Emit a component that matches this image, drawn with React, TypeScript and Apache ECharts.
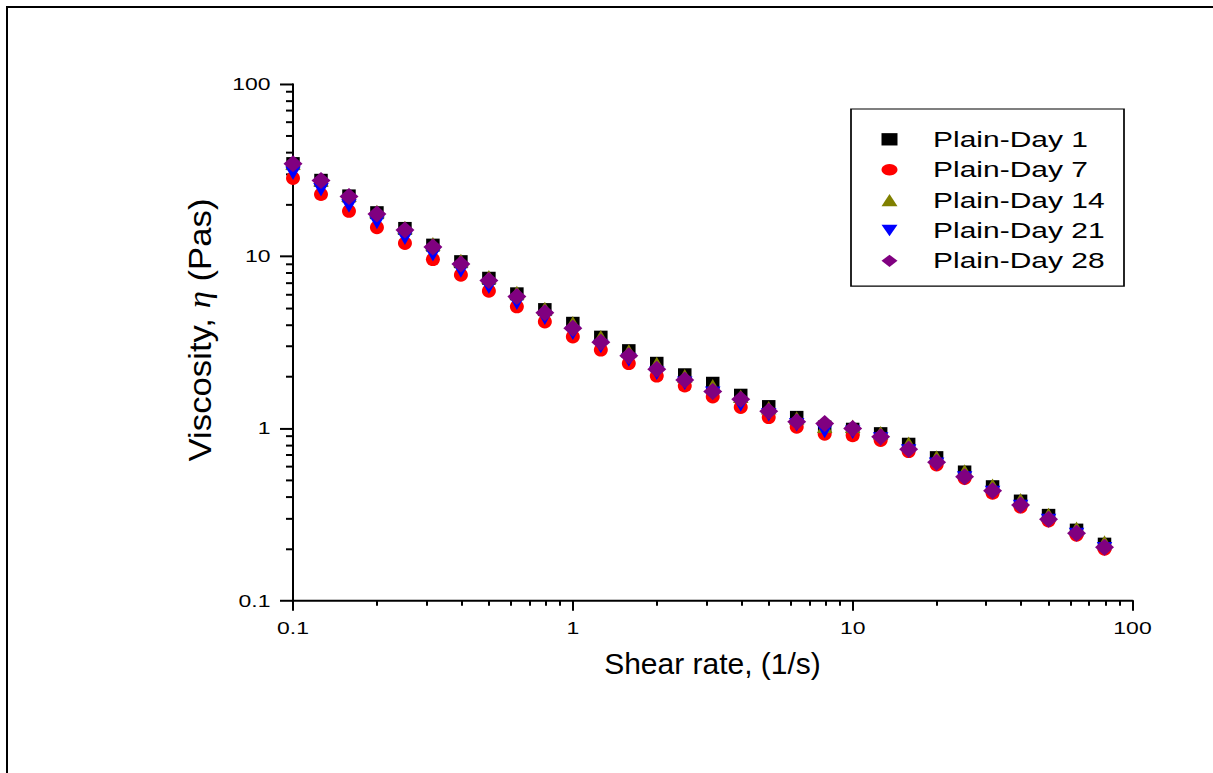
import React, { useEffect, useRef } from "react";
import * as echarts from "echarts";

// Shear rate (1/s), 10 points per decade
const shearRate = [
  0.1, 0.1259, 0.1585, 0.1995, 0.2512, 0.3162, 0.3981, 0.5012, 0.631, 0.7943,
  1, 1.259, 1.585, 1.995, 2.512, 3.162, 3.981, 5.012, 6.31, 7.943,
  10, 12.59, 15.85, 19.95, 25.12, 31.62, 39.81, 50.12, 63.1, 79.43,
];

// Viscosity (Pas)
const day1 = [
  34.5, 27.6, 22.4, 17.9, 14.5, 11.6, 9.3, 7.45, 6.05, 4.9,
  4.08, 3.39, 2.83, 2.39, 2.05, 1.83, 1.56, 1.34, 1.16, 1.02,
  0.99, 0.933, 0.81, 0.677, 0.559, 0.459, 0.379, 0.313, 0.257, 0.213,
];
const day7 = [
  28.4, 22.9, 18.3, 14.7, 11.9, 9.6, 7.79, 6.29, 5.1, 4.17,
  3.41, 2.86, 2.39, 2.02, 1.77, 1.53, 1.33, 1.16, 1.02, 0.93,
  0.91, 0.855, 0.737, 0.616, 0.514, 0.422, 0.351, 0.2915, 0.2407, 0.1997,
];
const day14 = [
  34.8, 27.8, 22.6, 18.2, 14.7, 11.8, 9.45, 7.6, 6.15, 4.98,
  4.11, 3.41, 2.82, 2.38, 2.02, 1.77, 1.54, 1.32, 1.15, 1.03,
  1.03, 0.945, 0.82, 0.683, 0.567, 0.468, 0.385, 0.317, 0.263, 0.219,
];
const day21 = [
  30.3, 24.3, 19.6, 15.7, 12.7, 10.2, 8.22, 6.61, 5.33, 4.37,
  3.57, 2.99, 2.5, 2.09, 1.83, 1.6, 1.37, 1.2, 1.05, 0.96,
  0.95, 0.87, 0.74, 0.62, 0.515, 0.425, 0.352, 0.292, 0.242, 0.2,
];
const day28 = [
  34.4, 27.5, 22.2, 17.6, 14.2, 11.3, 9.02, 7.22, 5.83, 4.7,
  3.82, 3.17, 2.64, 2.21, 1.91, 1.64, 1.48, 1.26, 1.095, 1.07,
  1.0, 0.896, 0.757, 0.636, 0.525, 0.435, 0.359, 0.297, 0.246, 0.204,
];

const seriesNames = ["Plain-Day 1", "Plain-Day 7", "Plain-Day 14", "Plain-Day 21", "Plain-Day 28"];
const seriesValues = [day1, day7, day14, day21, day28];
const seriesColors = ["#000000", "#ff0000", "#808000", "#0000ff", "#800080"];
const seriesSymbols = ["rect", "circle", "triangle", "path://M0,0 L10,0 L5,10 Z", "diamond"];

const majorTicks = [0.1, 1, 10, 100];
const minorTicks = [
  0.2, 0.3, 0.4, 0.5, 0.6, 0.7, 0.8, 0.9,
  2, 3, 4, 5, 6, 7, 8, 9,
  20, 30, 40, 50, 60, 70, 80, 90,
];

const xTitle = "Shear rate, (1/s)";
const yTitle = "Viscosity, {eta|η} (Pas)";

const FONT = "'Liberation Sans', Arial, Helvetica, sans-serif";
const SERIF = "'Liberation Serif', 'DejaVu Serif', serif";

// The chart is drawn taller and squashed vertically (like the reference's wide, flat lettering)
const PAGE_H = 773;
const DRAW_H = 1066;
const K = PAGE_H / DRAW_H;

export default function App() {
  const ref = useRef<HTMLDivElement>(null);

  useEffect(() => {
    if (!ref.current) return;
    const chart = echarts.init(ref.current, null, { renderer: "svg" });
    const fmt = (v: number) => `${+Number(v).toPrecision(6)}`;
    const hw = 2 / K; // horizontal line thickness compensated

    const minorAxisCommon = {
      type: "log" as const,
      logBase: 10,
      min: 0.1,
      max: 100,
      splitLine: { show: false },
      axisLine: { show: false },
      axisLabel: { show: false },
    };

    const sizes: number[][] = [
      [13.5, 13 / K],
      [14, 13.5 / K],
      [15.5, 13.5 / K],
      [15.5, 13.5 / K],
      [19, 17 / K],
    ];

    const option: any = {
      animation: false,
      backgroundColor: "#ffffff",
      grid: { left: 293, right: 80.5, top: 84 / K, bottom: DRAW_H - 600.7 / K, containLabel: false },
      graphic: [
        {
          type: "line",
          shape: { x1: 6, y1: 7 / K, x2: 1230, y2: 7 / K },
          style: { stroke: "#000", lineWidth: hw },
          silent: true,
        },
        {
          type: "line",
          shape: { x1: 7, y1: 6 / K, x2: 7, y2: DRAW_H + 20 },
          style: { stroke: "#000", lineWidth: 2 },
          silent: true,
        },
        {
          type: "text",
          x: 200,
          y: 330 / K,
          rotation: Math.PI / 2,
          scaleX: 1.12 / K,
          scaleY: 1,
          silent: true,
          style: {
            text: yTitle,
            fontFamily: FONT,
            fontSize: 31,
            fill: "#000",
            align: "center",
            verticalAlign: "middle",
            rich: {
              eta: { fontFamily: SERIF, fontStyle: "italic", fontSize: 31, fill: "#000" },
            },
          },
        },
        {
          type: "text",
          x: 712.5,
          y: 664 / K,
          scaleX: 1,
          scaleY: 1 / K,
          silent: true,
          style: {
            text: xTitle,
            fontFamily: FONT,
            fontSize: 30,
            fill: "#000",
            align: "center",
            verticalAlign: "middle",
          },
        },
      ],
      legend: {
        orient: "vertical",
        left: 851,
        top: 109 / K,
        padding: [26.8, 19, 19.8, 30.5],
        itemWidth: 16,
        itemHeight: 17,
        itemGap: 11.9,
        borderColor: "#000",
        borderWidth: 1.7,
        backgroundColor: "#fff",
        data: seriesNames,
        textStyle: {
          fontFamily: FONT,
          fontSize: 30,
          color: "#000",
          lineHeight: 30,
          width: 172,
          padding: [0, 0, 0, 30.5],
        },
      },
      xAxis: [
        {
          type: "log",
          logBase: 10,
          min: 0.1,
          max: 100,
          position: "bottom",
          splitLine: { show: false },
          axisLine: { show: true, lineStyle: { color: "#000", width: hw } },
          axisTick: {
            show: true,
            inside: false,
            length: 10 / K,
            customValues: majorTicks,
            lineStyle: { color: "#000", width: 2 },
          },
          axisLabel: {
            show: true,
            customValues: majorTicks,
            margin: 26,
            fontFamily: FONT,
            fontSize: 23,
            color: "#000",
            formatter: fmt,
          },
        },
        {
          ...minorAxisCommon,
          position: "bottom",
          axisTick: {
            show: true,
            inside: false,
            length: 5 / K,
            customValues: minorTicks,
            lineStyle: { color: "#000", width: 2 },
          },
        },
      ],
      yAxis: [
        {
          type: "log",
          logBase: 10,
          min: 0.1,
          max: 100,
          position: "left",
          splitLine: { show: false },
          axisLine: { show: true, lineStyle: { color: "#000", width: 2 } },
          axisTick: {
            show: true,
            inside: false,
            length: 13,
            customValues: majorTicks,
            lineStyle: { color: "#000", width: hw },
          },
          axisLabel: {
            show: true,
            customValues: majorTicks,
            margin: 22.5,
            fontFamily: FONT,
            fontSize: 23,
            color: "#000",
            formatter: fmt,
          },
        },
        {
          ...minorAxisCommon,
          position: "left",
          axisTick: {
            show: true,
            inside: false,
            length: 7,
            customValues: minorTicks,
            lineStyle: { color: "#000", width: hw },
          },
        },
      ],
      series: seriesNames.map((name, i) => ({
        name,
        type: "scatter",
        xAxisIndex: 0,
        yAxisIndex: 0,
        symbol: seriesSymbols[i],
        symbolSize: sizes[i],
        itemStyle: { color: seriesColors[i], opacity: 1 },
        data: shearRate.map((x, j) => [x, seriesValues[i][j]]),
        z: 2 + i,
      })),
    };

    chart.setOption(option);
    return () => chart.dispose();
  }, []);

  return (
    <div
      ref={ref}
      style={{
        position: "absolute",
        left: 0,
        top: 0,
        width: 1213,
        height: DRAW_H,
        transform: `scaleY(${K})`,
        transformOrigin: "0 0",
      }}
    />
  );
}
